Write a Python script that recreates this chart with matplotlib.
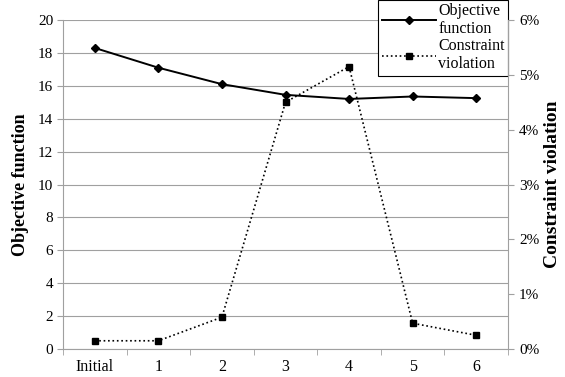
import matplotlib.pyplot as plt
import numpy as np

plt.rcParams['font.family'] = ['Liberation Serif', 'DejaVu Serif']

categories = ['Initial', '1', '2', '3', '4', '5', '6']
objective = [18.3, 17.1, 16.1, 15.45, 15.2, 15.35, 15.25]
violation = [0.15, 0.15, 0.58, 4.5, 5.15, 0.47, 0.25]  # percent

x = np.arange(len(categories))
grey = '#a0a0a0'

fig = plt.figure(figsize=(5.65, 3.77), dpi=100)
ax = fig.add_axes([63 / 565, 28 / 377, 445 / 565, 329 / 377])
ax2 = ax.twinx()

ax.set_xlim(-0.5, len(categories) - 0.5)
ax.set_ylim(0, 20)
ax.set_yticks(np.arange(0, 21, 2))
ax.yaxis.grid(True, color=grey, lw=0.8)
ax.set_axisbelow(True)
ax.set_xticks(x)
ax.set_xticklabels(categories)
ax.set_xticks(np.arange(-0.5, len(categories)), minor=True)
ax.tick_params(axis='x', which='major', length=0, labelsize=11.5, pad=7)
ax.tick_params(axis='x', which='minor', length=4, color=grey)
ax.tick_params(axis='y', length=4, color=grey, labelsize=11, pad=3)
for s in ['top', 'right']:
    ax.spines[s].set_visible(False)
for s in ['left', 'bottom']:
    ax.spines[s].set_color(grey)

l1, = ax.plot(x, objective, color='black', lw=1.4, marker='D', ms=4.5,
              label='Objective\nfunction')

ax2.set_ylim(0, 6)
ax2.set_yticks(np.arange(0, 7, 1))
ax2.set_yticklabels(['%d%%' % v for v in range(7)])
ax2.tick_params(axis='y', length=4, color=grey, labelsize=11, pad=4)
for s in ['top', 'left', 'bottom']:
    ax2.spines[s].set_visible(False)
ax2.spines['right'].set_color(grey)
l2, = ax2.plot(x, violation, color='black', lw=1.2, ls=':', marker='s', ms=4.5,
               label='Constraint\nviolation')

ax.set_ylabel('Objective function', fontsize=13, fontweight='bold')
ax.yaxis.set_label_coords(-0.077, 0.5)
ax2.set_ylabel('Constraint violation', fontsize=14, fontweight='bold',
               rotation=90)
ax2.yaxis.set_label_coords(1.08, 0.5)

leg = ax.legend(handles=[l1, l2], loc='upper right',
                bbox_to_anchor=(1.0, 1.062), fontsize=11.5, frameon=True,
                fancybox=False, edgecolor='black', framealpha=1,
                handlelength=3.4, handletextpad=0.15, borderpad=0.2,
                labelspacing=0.05, borderaxespad=0)
leg.get_frame().set_linewidth(0.8)
for t in leg.get_texts():
    t.set_linespacing(1.2)
leg.set_zorder(10)

fig.savefig('out.png', dpi=100)
